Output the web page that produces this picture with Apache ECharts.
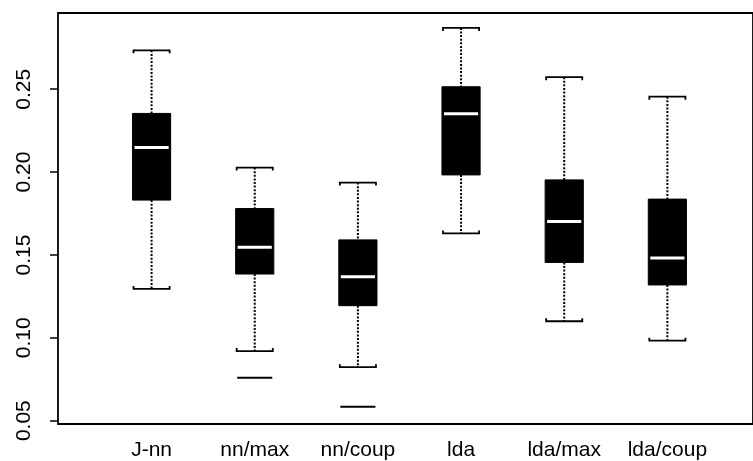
<!DOCTYPE html>
<html>
<head>
<meta charset="utf-8">
<title>boxplot</title>
<script src="https://cdn.jsdelivr.net/npm/echarts@6/dist/echarts.min.js"></script>
<style>
  html, body { margin: 0; padding: 0; background: #fff; }
  #main { width: 753px; height: 461px; }
</style>
</head>
<body>
<div id="main"></div>
<script>
// categories on the x axis (positions 1..6)
var categories = ['J-nn', 'nn/max', 'nn/coup', 'lda', 'lda/max', 'lda/coup'];
// five numbers per box: lower whisker, q1, median, q3, upper whisker
var lowWhisker = [0.1295, 0.0920, 0.0823, 0.1630, 0.1100, 0.0983];
var q1Values   = [0.1831, 0.1385, 0.1194, 0.1983, 0.1455, 0.1319];
var medians    = [0.2148, 0.1546, 0.1369, 0.2352, 0.1702, 0.1481];
var q3Values   = [0.2354, 0.1780, 0.1591, 0.2515, 0.1953, 0.1837];
var highWhisker= [0.2735, 0.2027, 0.1937, 0.2870, 0.2573, 0.2455];
// outliers: [box position, value]
var outliers = [[2, 0.0759], [3, 0.0584]];
// y tick labels
var yTicks = [0.05, 0.10, 0.15, 0.20, 0.25];

var ink = '#000';
var fontName = 'Liberation Sans';

var boxData = [];
for (var i = 0; i < categories.length; i++) {
    boxData.push([i + 1, lowWhisker[i], q1Values[i], medians[i], q3Values[i], highWhisker[i]]);
}

// draws one R-style box: filled box, white median, dotted whiskers, staples
function renderBox(params, api) {
    var x = api.value(0);
    var pLow = api.coord([x, api.value(1)]);
    var pQ1 = api.coord([x, api.value(2)]);
    var pMed = api.coord([x, api.value(3)]);
    var pQ3 = api.coord([x, api.value(4)]);
    var pHigh = api.coord([x, api.value(5)]);
    var boxW = api.size([0.37, 0])[0];
    var capW = api.size([0.35, 0])[0];
    var cx = pMed[0];
    var hb = boxW / 2, hc = capW / 2;
    var hook = 3;
    return {
        type: 'group',
        children: [
            { type: 'line', shape: { x1: cx, y1: pHigh[1], x2: cx, y2: pQ3[1] },
              style: { stroke: ink, lineWidth: 2, lineDash: [2, 1.6] } },
            { type: 'line', shape: { x1: cx, y1: pQ1[1], x2: cx, y2: pLow[1] },
              style: { stroke: ink, lineWidth: 2, lineDash: [2, 1.6] } },
            { type: 'polyline', shape: { points: [[cx - hc, pHigh[1] + hook], [cx - hc, pHigh[1]], [cx + hc, pHigh[1]], [cx + hc, pHigh[1] + hook]] },
              style: { stroke: ink, lineWidth: 1.8, fill: null } },
            { type: 'polyline', shape: { points: [[cx - hc, pLow[1] - hook], [cx - hc, pLow[1]], [cx + hc, pLow[1]], [cx + hc, pLow[1] - hook]] },
              style: { stroke: ink, lineWidth: 1.8, fill: null } },
            { type: 'rect', shape: { x: cx - hb, y: pQ3[1], width: boxW, height: pQ1[1] - pQ3[1] },
              style: { fill: ink, stroke: ink, lineWidth: 1 } },
            { type: 'line', shape: { x1: cx - hb + 2, y1: pMed[1], x2: cx + hb - 2, y2: pMed[1] },
              style: { stroke: '#fff', lineWidth: 3 } }
        ]
    };
}

function renderOutlier(params, api) {
    var p = api.coord([api.value(0), api.value(1)]);
    var w = api.size([0.34, 0])[0];
    return {
        type: 'line',
        shape: { x1: p[0] - w / 2, y1: p[1], x2: p[0] + w / 2, y2: p[1] },
        style: { stroke: ink, lineWidth: 2 }
    };
}

var chart = echarts.init(document.getElementById('main'));
chart.setOption({
    animation: false,
    backgroundColor: '#fff',
    grid: {
        left: 58, right: -3, top: 13, bottom: 36,
        show: true, borderColor: ink, borderWidth: 1.8, backgroundColor: '#fff'
    },
    xAxis: {
        type: 'value',
        min: 0.093,
        max: 6.83,
        axisLine: { show: false },
        axisTick: { show: false },
        splitLine: { show: false },
        axisLabel: {
            customValues: [1, 2, 3, 4, 5, 6],
            margin: 16,
            color: ink,
            fontFamily: fontName,
            fontSize: 21,
            formatter: function (v) { return categories[Math.round(v) - 1]; }
        }
    },
    yAxis: {
        type: 'value',
        min: 0.048,
        max: 0.296,
        axisLine: { show: false },
        splitLine: { show: false },
        axisTick: {
            show: true, length: 8, customValues: yTicks,
            lineStyle: { color: ink, width: 1.5 }
        },
        axisLabel: {
            customValues: yTicks,
            rotate: 90,
            margin: 23,
            color: ink,
            fontFamily: fontName,
            fontSize: 21,
            formatter: function (v) { return v.toFixed(2); }
        }
    },
    series: [
        { type: 'custom', renderItem: renderBox, data: boxData, encode: { x: 0, y: [1, 5] } },
        { type: 'custom', renderItem: renderOutlier, data: outliers, encode: { x: 0, y: 1 } }
    ]
});
</script>
</body>
</html>
